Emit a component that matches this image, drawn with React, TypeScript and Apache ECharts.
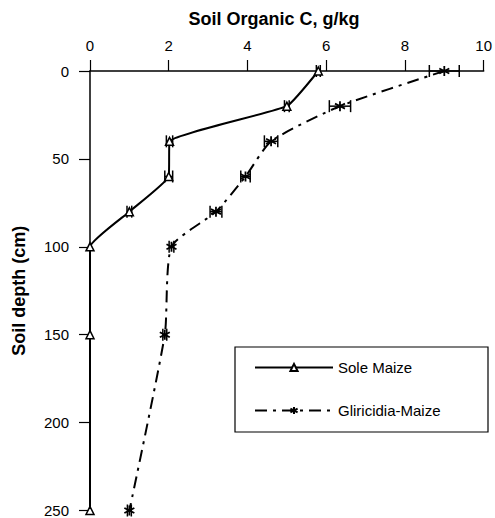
import React, { useEffect, useRef } from "react";
import * as echarts from "echarts";

const depths = [0, 20, 40, 60, 80, 100, 150, 250];
const soleMaize = [5.8, 5.0, 2.02, 2.0, 1.0, 0, 0, 0];
const soleMaizeErr = [0.05, 0.06, 0.08, 0.1, 0.06, 0, 0, 0];
const gliricidia = [9.0, 6.35, 4.6, 3.95, 3.2, 2.07, 1.9, 1.0];
const gliricidiaErr = [0.38, 0.27, 0.17, 0.12, 0.15, 0.06, 0.05, 0.05];
const xTicks = [0, 2, 4, 6, 8, 10];
const yTicks = [0, 50, 100, 150, 200, 250];

const FONT = "Liberation Sans, Arial, sans-serif";
const ASTERISK = "path://M0,-6L0,6M-5.2,-3L5.2,3M-5.2,3L5.2,-3";

function errorSeries(vals: number[], errs: number[]) {
  return {
    type: "custom",
    silent: true,
    z: 3,
    data: vals.map((v, i) => [v, depths[i], errs[i]]),
    renderItem: (params: any, api: any) => {
      const x = api.value(0);
      const y = api.value(1);
      const e = api.value(2);
      if (!e) return null;
      const a = api.coord([x - e, y]);
      const b = api.coord([x + e, y]);
      const h = 6;
      const style = { stroke: "#000", lineWidth: 1.5 };
      return {
        type: "group",
        children: [
          { type: "line", shape: { x1: a[0], y1: a[1], x2: b[0], y2: b[1] }, style },
          { type: "line", shape: { x1: a[0], y1: a[1] - h, x2: a[0], y2: a[1] + h }, style },
          { type: "line", shape: { x1: b[0], y1: b[1] - h, x2: b[0], y2: b[1] + h }, style },
        ],
      };
    },
  };
}

export default function App() {
  const ref = useRef<HTMLDivElement>(null);
  useEffect(() => {
    if (!ref.current) return;
    const chart = echarts.init(ref.current, undefined, { renderer: "svg" });
    chart.setOption({
      animation: false,
      backgroundColor: "#fff",
      textStyle: { fontFamily: FONT },
      grid: { left: 90, top: 71, right: 0, bottom: 7, containLabel: false },
      xAxis: {
        type: "value",
        position: "top",
        min: xTicks[0],
        max: xTicks[xTicks.length - 1],
        interval: 2,
        axisLine: { show: true, onZero: false, lineStyle: { color: "#000", width: 1.5 } },
        axisTick: { show: true, inside: false, length: 11, lineStyle: { color: "#000", width: 1.2 } },
        axisLabel: { color: "#000", fontSize: 15, margin: 18, fontFamily: FONT },
        splitLine: { show: false },
      },
      yAxis: {
        type: "value",
        inverse: true,
        min: yTicks[0],
        max: yTicks[yTicks.length - 1],
        interval: 50,
        name: "Soil depth (cm)",
        nameLocation: "middle",
        nameGap: 62,
        nameTextStyle: { color: "#000", fontSize: 18, fontWeight: "bold", fontFamily: FONT },
        axisLine: { show: true, onZero: false, lineStyle: { color: "#000", width: 1.5 } },
        axisTick: { show: true, inside: false, length: 11, lineStyle: { color: "#000", width: 1.2 } },
        axisLabel: { color: "#000", fontSize: 15, margin: 21, fontFamily: FONT },
        splitLine: { show: false },
      },
      legend: {
        orient: "vertical",
        left: 249,
        top: 355,
        itemWidth: 78,
        itemHeight: 9,
        itemGap: 28,
        textStyle: { color: "#000", fontSize: 15, fontFamily: FONT },
        data: ["Sole Maize", "Gliricidia-Maize"],
      },
      graphic: [
        {
          type: "text",
          x: 274,
          y: 19,
          style: {
            text: "Soil Organic C, g/kg",
            fill: "#000",
            font: "bold 18px Liberation Sans, Arial, sans-serif",
            textAlign: "center",
            textVerticalAlign: "middle",
          },
        },
        {
          type: "rect",
          shape: { x: 235, y: 347, width: 253, height: 85 },
          style: { fill: "none", stroke: "#000", lineWidth: 1.2 },
          z: 10,
        },
      ],
      series: [
        {
          name: "Sole Maize",
          type: "line",
          smooth: 0.12,
          data: soleMaize.map((v, i) => [v, depths[i]]),
          symbol: "triangle",
          symbolSize: 8,
          lineStyle: { color: "#000", width: 2 },
          itemStyle: { color: "#fff", borderColor: "#000", borderWidth: 1.5 },
          z: 4,
        },
        {
          name: "Gliricidia-Maize",
          type: "line",
          smooth: 0.2,
          data: gliricidia.map((v, i) => [v, depths[i]]),
          symbol: ASTERISK,
          symbolSize: 10,
          lineStyle: { color: "#000", width: 2, type: [12, 6, 3, 6] },
          itemStyle: { color: "#000", borderColor: "#000", borderWidth: 1.8 },
          z: 4,
        },
        errorSeries(soleMaize, soleMaizeErr),
        errorSeries(gliricidia, gliricidiaErr),
      ],
    });
    return () => chart.dispose();
  }, []);
  return (
    <div
      ref={ref}
      style={{ position: "fixed", left: 0, top: 0, width: 495, height: 518 }}
    />
  );
}
